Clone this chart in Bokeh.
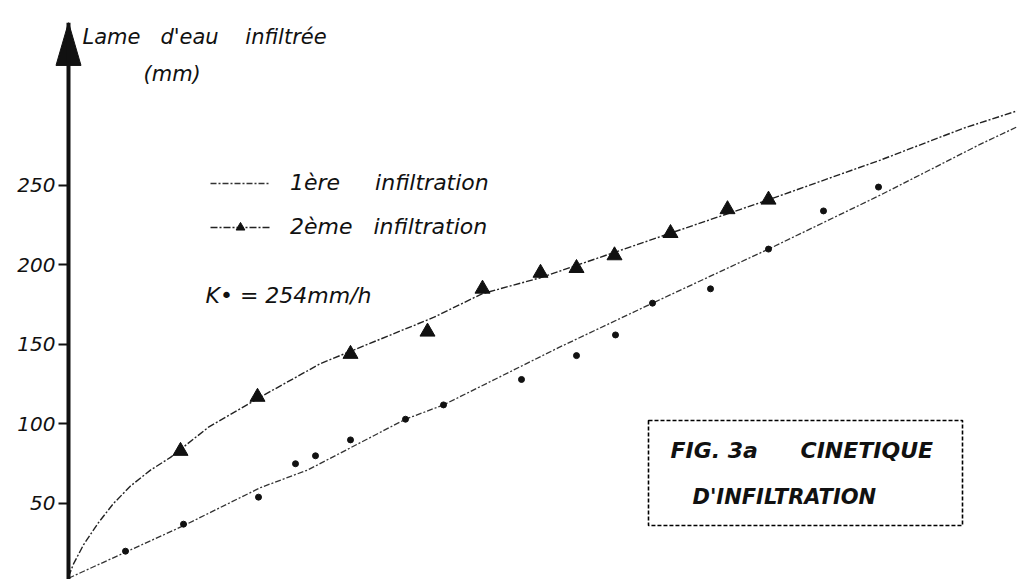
from bokeh.plotting import figure
from bokeh.models import LinearAxis, FixedTicker, Label, BoxAnnotation, Legend, LegendItem
from bokeh.embed import file_html
from bokeh.resources import INLINE

# ---- data (x: time, arbitrary units; y: mm) ----
y_ticks = [50, 100, 150, 200, 250]

# 2ème infiltration: measured points (triangles)
tri_x = [11.2, 18.9, 28.2, 35.9, 41.4, 47.2, 50.8, 54.6, 60.2, 65.9, 70.0]
tri_y = [83, 117, 144, 158, 185, 195, 198, 206, 220, 235, 241]

# 1ère infiltration: measured points (dots)
dot_x = [5.7, 11.5, 19.0, 22.7, 24.7, 28.2, 33.7, 37.5, 45.3, 50.8, 54.7, 58.4, 64.2, 70.0, 75.5, 81.0]
dot_y = [20, 37, 54, 75, 80, 90, 103, 112, 128, 143, 156, 176, 185, 210, 234, 249]

# hand-drawn fitted curves
curve2_x = [0.0, 0.5, 1.5, 3.0, 4.5, 6.2, 8.2, 10.2, 14.0, 19.2, 25.2, 36.5, 41.4, 47.2, 60.2, 70.0, 81.2, 89.5, 94.9]
curve2_y = [4, 12, 24, 38, 50, 61, 71, 79, 98, 117, 138, 167, 182, 192, 220, 241, 266, 286, 297]

curve1_x = [0.0, 11.5, 19.2, 23.9, 33.7, 37.5, 49.0, 58.4, 70.0, 81.2, 91.2, 94.9]
curve1_y = [3, 36, 60, 71, 103, 112, 148, 176, 210, 244, 276, 287]

FONT = "DejaVu Sans"
INK = "#111111"

p = figure(width=1017, height=579, x_range=(-6.8, 94.9), y_range=(2.2, 352.5),
           output_backend="svg", toolbar_location=None,
           x_axis_type=None, y_axis_type=None,
           min_border_left=0, min_border_right=0, min_border_top=22, min_border_bottom=0)
p.outline_line_color = None
p.background_fill_color = "white"
p.border_fill_color = "white"

# y axis drawn at x = 0
yaxis = LinearAxis(fixed_location=0, ticker=FixedTicker(ticks=y_ticks))
yaxis.axis_line_width = 4
yaxis.axis_line_color = INK
yaxis.major_tick_out = 10
yaxis.major_tick_in = 0
yaxis.major_tick_line_width = 2
yaxis.major_tick_line_color = INK
yaxis.minor_tick_out = 0
yaxis.minor_tick_in = 0
yaxis.major_label_standoff = 3
yaxis.major_label_text_font = FONT
yaxis.major_label_text_font_size = "20px"
yaxis.major_label_text_font_style = "italic"
yaxis.major_label_text_color = INK
p.add_layout(yaxis, "left")

# arrow head on the y axis
p.patch(x=[-1.25, 0, 1.25], y=[325.5, 352.5, 325.5], color=INK)

# curves and points
l1 = p.line(curve1_x, curve1_y, line_color="#333333", line_width=1.3, line_dash="6 2 2 2")
d1 = p.scatter(dot_x, dot_y, marker="circle", size=6, color=INK)
l2 = p.line(curve2_x, curve2_y, line_color="#222222", line_width=1.4, line_dash="7 2 2 2")
d2 = p.scatter(tri_x, tri_y, marker="triangle", size=15, color=INK)

nb = "\u00a0"
legend = Legend(items=[
    LegendItem(label="1ère" + nb * 5 + "infiltration", renderers=[l1]),
    LegendItem(label="2ème" + nb * 3 + "infiltration", renderers=[l2, d2]),
], location=(210, 340))
legend.glyph_width = 60
legend.glyph_height = 22
legend.label_height = 22
legend.spacing = 19
legend.label_standoff = 20
legend.padding = 0
legend.margin = 0
legend.border_line_alpha = 0
legend.background_fill_alpha = 0
legend.label_text_font = FONT
legend.label_text_font_size = "22px"
legend.label_text_font_style = "italic"
legend.label_text_color = INK
p.add_layout(legend, "center")

def lab(x, y, text, size="20px", style="italic"):
    p.add_layout(Label(x=x, y=y, text=text, text_font=FONT, text_font_size=size,
                       text_font_style=style, text_color=INK, text_baseline="middle",
                       text_align="left"))

lab(1.4, 343.1, "Lame" + nb * 3 + "d'eau" + nb * 4 + "infiltrée", size="21px")
lab(7.5, 320.4, "(mm)", size="21px")
lab(13.7, 180.5, "K\u2022 = 254mm/h", size="22px")

p.add_layout(BoxAnnotation(left=58.0, right=89.4, bottom=36.2, top=102.2,
                           fill_alpha=0, line_color="#000000", line_alpha=1.0,
                           line_width=1.6, line_dash="4 2"))
lab(60.2, 83.3, "FIG. 3a", size="22px", style="bold italic")
lab(73.2, 83.3, "CINETIQUE", size="22px", style="bold italic")
lab(62.4, 53.8, "D'INFILTRATION", size="21px", style="bold italic")

open("out.html", "w").write(file_html(p, INLINE))
